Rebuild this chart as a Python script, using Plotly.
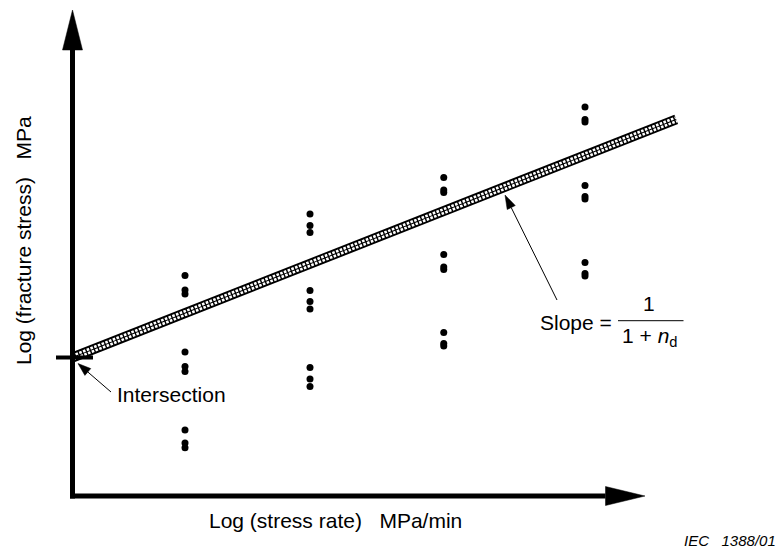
import plotly.graph_objects as go

# ---------------- data (log units) ----------------
stress_rate_cols = [0.90, 1.90, 2.97, 4.10]            # log stress rate of each test series
fracture_col1 = [2.205, 2.06, 2.02, 1.44, 1.295, 1.245, 0.66, 0.53, 0.483]
fracture_col2 = [2.82, 2.705, 2.635, 2.055, 1.945, 1.87, 1.285, 1.17, 1.095]
fracture_col3 = [3.185, 3.06, 3.035, 2.415, 2.29, 2.265, 1.635, 1.525, 1.50]
fracture_col4 = [3.89, 3.765, 3.74, 3.105, 2.995, 2.97, 2.335, 2.225, 2.20]
fit_intercept = 1.385
fit_slope = 0.493
fit_x = [0.0, 4.83]
x_axis_end = 4.58
y_axis_end = 4.86

x_label = "Log (stress rate)\u00a0\u00a0\u00a0MPa/min"
y_label = "Log (fracture stress)\u00a0\u00a0\u00a0MPa"
intersection_label = "Intersection"
slope_label = "Slope ="
slope_num = "1"
slope_den = "1 + <i>n</i><sub>d</sub>"
source_label = "IEC\u00a0\u00a0\u00a01388/01"

# ---------------- geometry helpers ----------------
W, H = 783, 548
X0, XS = 72.5, 125.0   # px of x=0, px per unit
Y0, YS = 496.0, 100.0  # px of y=0, px per unit
FONT = "Arial, Liberation Sans, Helvetica, sans-serif"


def dx(px):
    return (px - X0) / XS


def dy(py):
    return (Y0 - py) / YS


fig = go.Figure()

# fitted band (checkered)
fit_y = [fit_intercept + fit_slope * x for x in fit_x]
fig.add_trace(go.Scatter(x=fit_x, y=fit_y, mode="lines",
                         line=dict(color="black", width=10), hoverinfo="skip"))
ux, uy = XS * 1.0, -YS * fit_slope
ln = (ux ** 2 + uy ** 2) ** 0.5
ux, uy = ux / ln, uy / ln
perp_x, perp_y = -uy, ux  # px direction
for off in (-1.8, 1.8):
    ox = perp_x * off / XS
    oy = -perp_y * off / YS
    fig.add_trace(go.Scatter(x=[x + ox for x in fit_x], y=[y + oy for y in fit_y],
                             mode="lines",
                             line=dict(color="white", width=2.6, dash="2.6px,1.4px"),
                             hoverinfo="skip"))

# data points
for xv, col in zip(stress_rate_cols, [fracture_col1, fracture_col2, fracture_col3, fracture_col4]):
    fig.add_trace(go.Scatter(x=[xv] * len(col), y=col, mode="markers",
                             marker=dict(color="black", size=7, line=dict(width=0)),
                             hoverinfo="skip"))

shapes = []
# axes
shapes.append(dict(type="line", xref="x", yref="y", x0=0, x1=0,
                   y0=dy(Y0 + 2.5), y1=y_axis_end - 40 / YS,
                   line=dict(color="black", width=5)))
shapes.append(dict(type="line", xref="x", yref="y", y0=0, y1=0,
                   x0=dx(X0 - 2.5), x1=x_axis_end - 39.5 / XS,
                   line=dict(color="black", width=5)))
# axis arrowheads
vy_base = y_axis_end - 40 / YS
shapes.append(dict(type="path", xref="x", yref="y",
                   path=f"M {-10/XS},{vy_base} L 0,{y_axis_end} L {10/XS},{vy_base} Z",
                   fillcolor="black", line=dict(color="black", width=0.5)))
hx_base = x_axis_end - 39.5 / XS
shapes.append(dict(type="path", xref="x", yref="y",
                   path=f"M {hx_base},{9.5/YS} L {x_axis_end},0 L {hx_base},{-9.5/YS} Z",
                   fillcolor="black", line=dict(color="black", width=0.5)))
# intercept tick
shapes.append(dict(type="line", xref="x", yref="y", x0=dx(56), x1=dx(93),
                   y0=fit_intercept, y1=fit_intercept,
                   line=dict(color="black", width=4)))


def pointer(tail, tip, head_len=12.0, head_w=8.0):
    (tx0, ty0), (tx1, ty1) = tail, tip
    vx, vy = tx1 - tx0, ty1 - ty0
    L = (vx ** 2 + vy ** 2) ** 0.5
    vx, vy = vx / L, vy / L
    bx, by = tx1 - vx * head_len, ty1 - vy * head_len
    nx, ny = -vy, vx
    out = [dict(type="line", xref="x", yref="y", x0=dx(tx0), y0=dy(ty0),
                x1=dx(bx), y1=dy(by), line=dict(color="black", width=1))]
    p1 = (bx + nx * head_w / 2, by + ny * head_w / 2)
    p2 = (bx - nx * head_w / 2, by - ny * head_w / 2)
    out.append(dict(type="path", xref="x", yref="y",
                    path=f"M {dx(p1[0])},{dy(p1[1])} L {dx(tx1)},{dy(ty1)} L {dx(p2[0])},{dy(p2[1])} Z",
                    fillcolor="black", line=dict(color="black", width=0.5)))
    return out


shapes += pointer((111, 392), (78, 363.5), 13, 9)
shapes += pointer((557, 300), (505, 195), 14, 9)
# fraction bar
shapes.append(dict(type="line", xref="paper", yref="paper",
                   x0=618 / W, x1=683.5 / W, y0=1 - 320.7 / H, y1=1 - 320.7 / H,
                   line=dict(color="black", width=1)))


def ann(text, px, py, size=21, xanchor="center", angle=0, italic=False):
    return dict(text=text, x=px / W, y=1 - py / H, xref="paper", yref="paper",
                showarrow=False, xanchor=xanchor, yanchor="middle", textangle=angle,
                font=dict(family=FONT, size=size, color="black",
                          style="italic" if italic else "normal"))


annotations = [
    ann(y_label, 23, 241, angle=-90),
    ann(x_label, 335, 520),
    ann(intersection_label, 171, 394),
    ann(slope_label, 537.5, 322, xanchor="left"),
    ann(slope_num, 649, 303),
    ann(slope_den, 649, 337),
    ann(source_label, 778, 540, size=15, xanchor="right", italic=True),
]

fig.update_layout(
    width=W, height=H,
    margin=dict(l=0, r=0, t=0, b=0),
    paper_bgcolor="white", plot_bgcolor="white",
    showlegend=False,
    xaxis=dict(range=[dx(0), dx(W)], visible=False, fixedrange=True),
    yaxis=dict(range=[dy(H), dy(0)], visible=False, fixedrange=True),
    shapes=shapes,
    annotations=annotations,
)

fig.write_html("out.html", config={"displayModeBar": False},
               post_script="document.body.style.margin='0';document.body.style.overflow='hidden';")
